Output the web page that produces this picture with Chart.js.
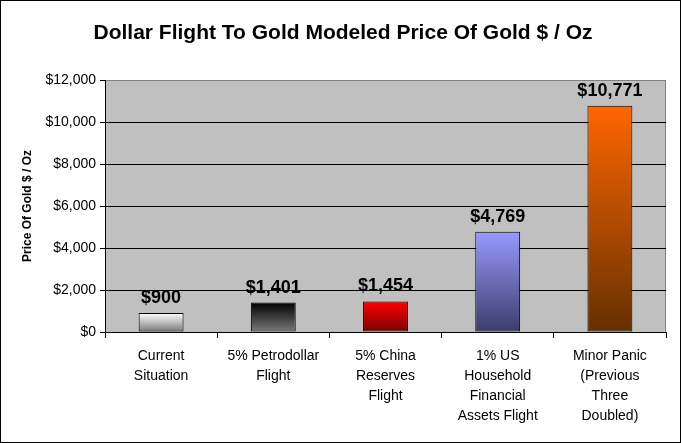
<!DOCTYPE html>
<html>
<head>
<meta charset="utf-8">
<script src="https://cdn.jsdelivr.net/npm/chart.js@4.4.0/dist/chart.umd.min.js"></script>
<style>
  html, body { margin: 0; padding: 0; background: #fff; }
  #wrap { width: 681px; height: 443px; }
</style>
</head>
<body>
<div id="wrap"><canvas id="goldChart" width="681" height="443"></canvas></div>
<script>
// chart values
const categories = [
  ['Current', 'Situation'],
  ['5% Petrodollar', 'Flight'],
  ['5% China', 'Reserves', 'Flight'],
  ['1% US', 'Household', 'Financial', 'Assets Flight'],
  ['Minor Panic', '(Previous', 'Three', 'Doubled)']
];
const goldPrice = [900, 1401, 1454, 4769, 10771];
const topColors = ['#ffffff', '#000000', '#ff0000', '#9999ff', '#ff6600'];
const bottomColors = ['#777777', '#7a7a7a', '#780000', '#3c3c6a', '#663000'];
const yTicks = [0, 2000, 4000, 6000, 8000, 10000, 12000];

const FONT = "'Liberation Sans', Arial, sans-serif";

function money(v) {
  return '$' + v.toLocaleString('en-US');
}

// gradient per bar, built from the y scale
function barFill(ctx) {
  const chart = ctx.chart;
  const y = chart.scales.y;
  const i = ctx.dataIndex;
  if (!chart.chartArea || !y || i === undefined) return topColors[i] || '#888';
  const top = y.getPixelForValue(goldPrice[i]);
  const bottom = y.getPixelForValue(0);
  const g = chart.ctx.createLinearGradient(0, top, 0, bottom);
  g.addColorStop(0, topColors[i]);
  g.addColorStop(1, bottomColors[i]);
  return g;
}

const plotBackground = {
  id: 'plotBackground',
  beforeDraw(chart) {
    const { ctx, chartArea: a } = chart;
    ctx.save();
    ctx.fillStyle = '#fff';
    ctx.fillRect(0, 0, chart.width, chart.height);
    ctx.fillStyle = '#c0c0c0';
    ctx.fillRect(a.left, a.top, a.right - a.left, a.bottom - a.top);
    ctx.strokeStyle = '#808080';
    ctx.lineWidth = 1;
    ctx.strokeRect(a.left + 0.5, a.top + 0.5, a.right - a.left - 1, a.bottom - a.top);
    // title
    ctx.fillStyle = '#000';
    ctx.font = 'bold 21px ' + FONT;
    ctx.textAlign = 'center';
    ctx.textBaseline = 'middle';
    ctx.fillText('Dollar Flight To Gold Modeled Price Of Gold $ / Oz', 343, 33);
    ctx.restore();
  },
  afterDraw(chart) {
    const ctx = chart.ctx;
    ctx.save();
    ctx.strokeStyle = '#000';
    ctx.lineWidth = 1;
    ctx.strokeRect(0.5, 0.5, chart.width - 1, chart.height - 1);
    ctx.restore();
  }
};

const barLabels = {
  id: 'barLabels',
  afterDatasetsDraw(chart) {
    const ctx = chart.ctx;
    const meta = chart.getDatasetMeta(0);
    ctx.save();
    ctx.fillStyle = '#000';
    ctx.font = 'bold 18px ' + FONT;
    ctx.textAlign = 'center';
    ctx.textBaseline = 'bottom';
    meta.data.forEach((bar, i) => {
      ctx.fillText(money(goldPrice[i]), bar.x, bar.y - 6);
    });
    ctx.restore();
  }
};

new Chart(document.getElementById('goldChart'), {
  type: 'bar',
  data: {
    labels: categories,
    datasets: [{
      data: goldPrice,
      backgroundColor: barFill,
      borderColor: '#000',
      borderWidth: 1,
      borderSkipped: false,
      barPercentage: 0.4,
      categoryPercentage: 1
    }]
  },
  options: {
    responsive: false,
    animation: false,
    devicePixelRatio: 1,
    layout: { padding: { top: 80, left: 10, right: 15, bottom: 0 } },
    plugins: {
      legend: { display: false },
      title: { display: false },
      tooltip: { enabled: false }
    },
    scales: {
      x: {
        offset: true,
        grid: {
          offset: true,
          drawOnChartArea: false,
          color: '#000',
          tickLength: 6,
          tickColor: '#000'
        },
        border: { color: '#000' },
        ticks: {
          color: '#000',
          font: { family: FONT, size: 14, lineHeight: 1.43 },
          maxRotation: 0,
          autoSkip: false,
          padding: 8
        },
        afterFit(axis) { axis.height = 111; }
      },
      y: {
        min: 0,
        max: 12000,
        afterBuildTicks(axis) { axis.ticks = yTicks.map(v => ({ value: v })); },
        grid: {
          color: ctx => (ctx.tick && ctx.tick.value === 12000 ? 'rgba(0,0,0,0)' : '#000'),
          tickColor: '#000',
          tickLength: 5
        },
        border: { color: '#000' },
        ticks: {
          color: '#000',
          font: { family: FONT, size: 14 },
          padding: 4,
          callback: v => money(v)
        },
        title: {
          display: true,
          text: 'Price Of Gold $ / Oz',
          color: '#000',
          font: { family: FONT, size: 12, weight: 'bold' },
          padding: { top: 10, bottom: 0 }
        },
        afterFit(axis) { axis.width = 95; }
      }
    }
  },
  plugins: [plotBackground, barLabels]
});
</script>
</body>
</html>
